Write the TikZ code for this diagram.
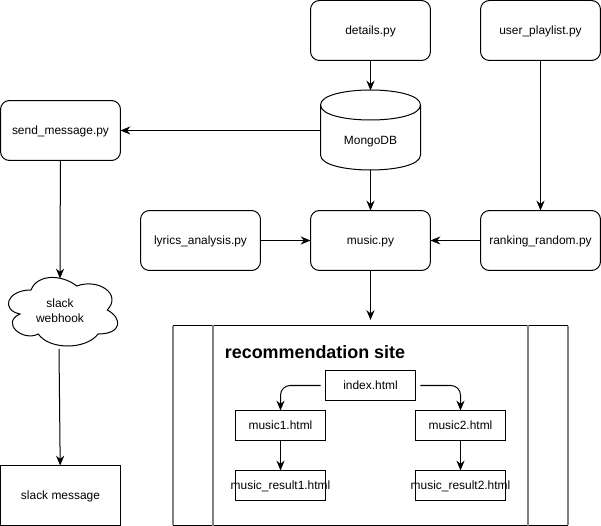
\documentclass[tikz,border=0pt]{standalone}
\usepackage{fontspec}
\setmainfont{Liberation Sans}
\usetikzlibrary{arrows.meta}
\tikzstyle{caption}=[inner sep=0pt,outer sep=0pt,text height=5.1pt,text depth=0pt]
\tikzstyle{script}=[caption,rectangle,rounded corners=5.1pt,draw,minimum width=2.4cm,minimum height=1.2cm]
\tikzstyle{page}=[caption,rectangle,draw,minimum width=1.8cm,minimum height=0.6cm]
\tikzstyle{link}=[-{Stealth[length=5.6pt,width=4.6pt]}]
\tikzstyle{siderule}=[gray,line width=1.13pt]
\begin{document}
\begin{tikzpicture}[x=0.02cm,y=-0.02cm,line width=0.57pt,font=\fontsize{6.8pt}{8.2pt}\selectfont]
            \useasboundingbox (0,0) rectangle (601,526);
            \node (details) at (370.5,30.5) [script] {details.py};
            \node (playlist) at (540.5,30.5) [script] {user\_playlist.py};
            \node (send) at (60.5,130.5) [script] {send\_message.py};
            \node (mongo) at (370.5,130.5) [rectangle,inner sep=0pt,outer sep=0pt,minimum width=2cm,minimum height=1.6cm] {};
            \node (mongolabel) at (370.5,140.5) [caption] {MongoDB};
            \draw (320.5,105) .. controls (320.5,85) and (420.5,85) .. (420.5,105)
                  -- (420.5,155) .. controls (420.5,175) and (320.5,175) .. (320.5,155) -- cycle;
            \draw (320.5,105) .. controls (320.5,125) and (420.5,125) .. (420.5,105);
            \node (lyrics) at (200.5,240.5) [script] {lyrics\_analysis.py};
            \node (music) at (370.5,240.5) [script] {music.py};
            \node (ranking) at (540.5,240.5) [script] {ranking\_random.py};
            \draw[xshift=0.03cm] (29.5,290) .. controls (5.1,290) and (-1,310) .. (18.5,314)
                  .. controls (-1,322.8) and (21,342) .. (36.8,334)
                  .. controls (47.8,350) and (84.4,350) .. (96.6,334)
                  .. controls (121,334) and (121,318) .. (105.75,310)
                  .. controls (121,294) and (96.6,278) .. (75.25,286)
                  .. controls (60,274) and (35.6,274) .. (29.5,290) -- cycle;
            \node (webhook) at (60,311) [inner sep=0pt,outer sep=0pt,align=center] {slack\\[0.3pt]webhook};
            \coordinate (webhooktop) at (60,278.5);
            \coordinate (webhookbottom) at (59,349);
            \node (slack) at (60.5,495.5) [script,rounded corners=0pt] {slack message};
            \node (site) at (370.5,425.5) [rectangle,inner sep=0pt,outer sep=0pt,minimum width=7.9cm,minimum height=4cm] {};
            \draw (site.north west) -- (site.north east);
            \draw (site.south west) -- (site.south east);
            \draw[siderule] (site.north west) -- (site.south west);
            \draw[siderule] (213,325.5) -- (213,525.5);
            \draw[siderule] (528,325.5) -- (528,525.5);
            \draw[siderule] (site.north east) -- (site.south east);
            \node (title) at (315,352) {\fontsize{10.2pt}{12pt}\selectfont\bfseries recommendation site};
            \node (index) at (370.5,385.5) [page] {index.html};
            \node (musica) at (280.5,425.5) [page] {music1.html};
            \node (musicb) at (460.5,425.5) [page] {music2.html};
            \node (resulta) at (280.5,485.5) [page] {\makebox[0pt]{music\_result1.html}};
            \node (resultb) at (460.5,485.5) [page] {\makebox[0pt]{music\_result2.html}};
            \coordinate (siteentry) at (370.5,320);
            \draw[link] (details) -- (mongo.north);
            \draw[link] (playlist) -- (ranking);
            \draw[link] (mongo.west) -- (send);
            \draw[link] (mongo.south) -- (music);
            \draw[link] (lyrics) -- (music);
            \draw[link] (ranking) -- (music);
            \draw[link] (music) -- (siteentry);
            \draw[link] (send) -- (webhooktop);
            \draw[link] (webhookbottom) -- (slack);
            \draw[link,rounded corners=5.5pt,shorten <=2.8pt] (index.west) -| (musica);
            \draw[link,rounded corners=5.5pt,shorten <=2.8pt] (index.east) -| (musicb);
            \draw[link] (musica) -- (resulta);
            \draw[link] (musicb) -- (resultb);
        \end{tikzpicture}
\end{document}
